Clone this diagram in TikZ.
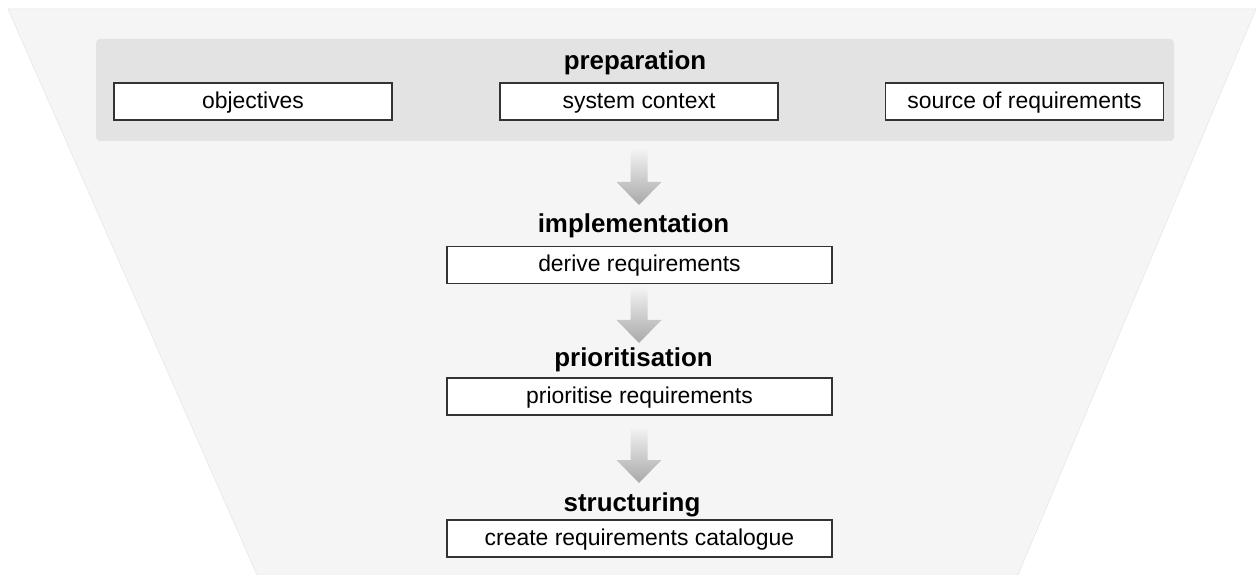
\documentclass[tikz,border=0pt]{standalone}
\usepackage{fontspec}
\setmainfont{Liberation Sans}

\definecolor{funnelgray}{HTML}{F5F5F5}
\definecolor{bandgray}{HTML}{E3E3E3}
\definecolor{arrowgray}{HTML}{A8A8A8}

\tikzset{
  stepbox/.style={draw=black!80, line width=1.2bp, fill=white, inner sep=0pt,
    minimum height=37bp, text height=16bp, text depth=2bp,
    font=\fontsize{23}{26}\selectfont},
  phase/.style={anchor=base, inner sep=0pt, font=\fontsize{26}{30}\selectfont\bfseries},
  flowarrow/.style={top color=funnelgray, bottom color=arrowgray}
}

% block arrow pointing down, tip at #1
\newcommand{\downarrowat}[1]{%
  \shade[flowarrow] (#1) -- ++(-22.5,-23) -- ++(14,0) -- ++(0,-34)
    -- ++(17,0) -- ++(0,34) -- ++(14,0) -- cycle;}

\begin{document}
\begin{tikzpicture}[x=1bp, y=-1bp]
\useasboundingbox (0,0) rectangle (1258,575);

% funnel and preparation band
\filldraw[fill=funnelgray, draw=black!10, line width=0.5bp]
  (8,9) -- (1256,9) -- (1018,575) -- (257,575) -- cycle;
\fill[bandgray, rounded corners=4bp] (96,39) rectangle (1174,141);

% preparation
\node[phase] (prep) at (635,70) {preparation};
\node[stepbox, minimum width=278bp] (obj) at (253,101.5) {objectives};
\node[stepbox, minimum width=278bp] (ctx) at (639,101.5) {system context};
\node[stepbox, minimum width=278bp] (src) at (1024.5,101.5) {source of requirements};

% implementation
\coordinate (tip1) at (639,205);
\downarrowat{tip1}
\node[phase] (impl) at (633.5,233) {implementation};
\node[stepbox, minimum width=385bp] (derive) at (639.5,265) {derive requirements};

% prioritisation
\coordinate (tip2) at (639,343);
\downarrowat{tip2}
\node[phase] (prio) at (633.5,367) {prioritisation};
\node[stepbox, minimum width=385bp] (prioreq) at (639.5,396.5) {prioritise requirements};

% structuring
\coordinate (tip3) at (639,483);
\downarrowat{tip3}
\node[phase] (struct) at (632,511) {structuring};
\node[stepbox, minimum width=385bp] (catalogue) at (639.5,538.5) {create requirements catalogue};
\end{tikzpicture}
\end{document}
